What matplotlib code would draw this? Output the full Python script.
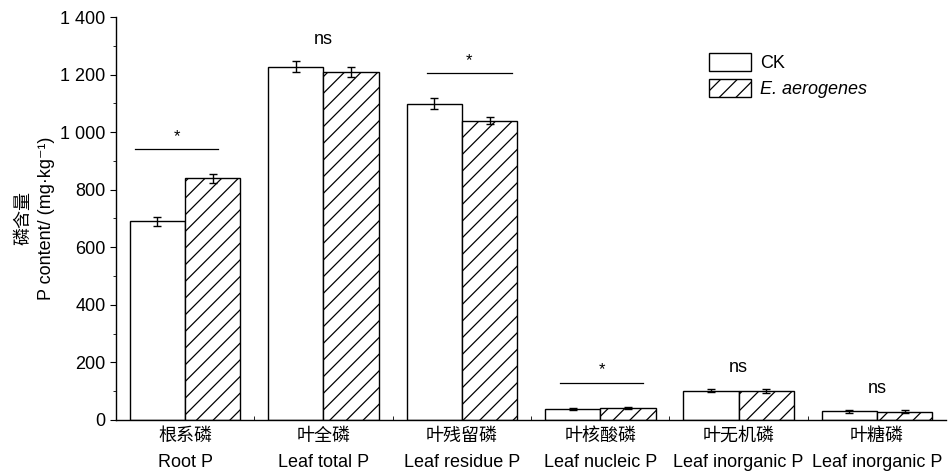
import matplotlib
matplotlib.use("Agg")
import matplotlib.pyplot as plt
import matplotlib.patches as mpatches
import numpy as np

# Phosphorus fractions in roots and leaves, CK vs. E. aerogenes
categories_cn = ["根系磷", "叶全磷", "叶残留磷", "叶核酸磷", "叶无机磷", "叶糖磷"]
categories_en = ["Root P", "Leaf total P", "Leaf residue P", "Leaf nucleic P",
                 "Leaf inorganic P", "Leaf inorganic P"]
ck_values = [690, 1228, 1099, 37, 102, 31]
ck_errors = [15, 18, 20, 4, 5, 5]
ea_values = [840, 1210, 1040, 41, 100, 29]
ea_errors = [15, 18, 13, 4, 6, 6]
significance = ["*", "ns", "*", "*", "ns", "ns"]
series_names = ["CK", "E. aerogenes"]

plt.rcParams["font.family"] = ["Liberation Sans", "Noto Sans CJK SC", "DejaVu Sans"]
plt.rcParams["hatch.linewidth"] = 0.9

FS = 13

fig = plt.figure(figsize=(9.53, 4.71), dpi=100)
ax = fig.add_axes([0.1217, 0.1083, 0.871, 0.8556])

x = np.arange(len(categories_cn))
w = 0.4
bar_kw = dict(width=w, edgecolor="black", linewidth=1.0, facecolor="white",
              error_kw=dict(elinewidth=1.0, capthick=1.0, ecolor="black"), capsize=3)
ax.bar(x - w / 2, ck_values, yerr=ck_errors, align="center", **bar_kw)
ax.bar(x + w / 2, ea_values, yerr=ea_errors, align="center", hatch="//", **bar_kw)

# significance annotations
top = np.maximum(np.array(ck_values) + ck_errors, np.array(ea_values) + ea_errors)
line_spans = {0: (-0.36, 0.24), 2: (-0.25, 0.36), 3: (-0.29, 0.31)}
for i, s in enumerate(significance):
    if s == "*":
        y_line = top[i] + 85
        l, r = line_spans[i]
        ax.plot([i + l, i + r], [y_line, y_line], color="black", lw=0.9)
        ax.text(i + (l + r) / 2, y_line + 18, "*", ha="center", va="bottom", fontsize=FS - 1)
    else:
        ax.text(i, top[i] + 45, "ns", ha="center", va="bottom", fontsize=FS)

ax.set_xlim(-0.5, 5.5)
ax.set_ylim(0, 1400)
ax.set_yticks(np.arange(0, 1401, 200))
ax.set_yticklabels(["0", "200", "400", "600", "800", "1 000", "1 200", "1 400"])
ax.set_yticks(np.arange(100, 1400, 200), minor=True)
ax.set_xticks(x)
ax.set_xticklabels([f"{c}\n{e}" for c, e in zip(categories_cn, categories_en)],
                   fontsize=FS, linespacing=1.65)
ax.set_xticks(np.arange(0.5, 5.0, 1.0), minor=True)
ax.tick_params(axis="x", which="major", length=0, pad=6)
ax.tick_params(axis="x", which="minor", direction="in", length=3)
ax.tick_params(axis="y", which="major", direction="out", length=4, labelsize=FS)
ax.tick_params(axis="y", which="minor", direction="out", length=2)

for side in ("top", "right"):
    ax.spines[side].set_visible(False)
for side in ("left", "bottom"):
    ax.spines[side].set_linewidth(1.0)

ax.set_ylabel("磷含量\nP content/ (mg·kg⁻¹)", fontsize=FS, linespacing=1.4, labelpad=4)

handles = [mpatches.Patch(facecolor="white", edgecolor="black", lw=1.0),
           mpatches.Patch(facecolor="white", edgecolor="black", lw=1.0, hatch="//")]
leg = ax.legend(handles, series_names, loc="upper left", bbox_to_anchor=(0.695, 0.95),
                frameon=False, fontsize=FS, handlelength=2.3, handleheight=1.1,
                labelspacing=0.4, handletextpad=0.5)
leg.get_texts()[1].set_fontstyle("italic")

fig.savefig("out.png", dpi=100)
